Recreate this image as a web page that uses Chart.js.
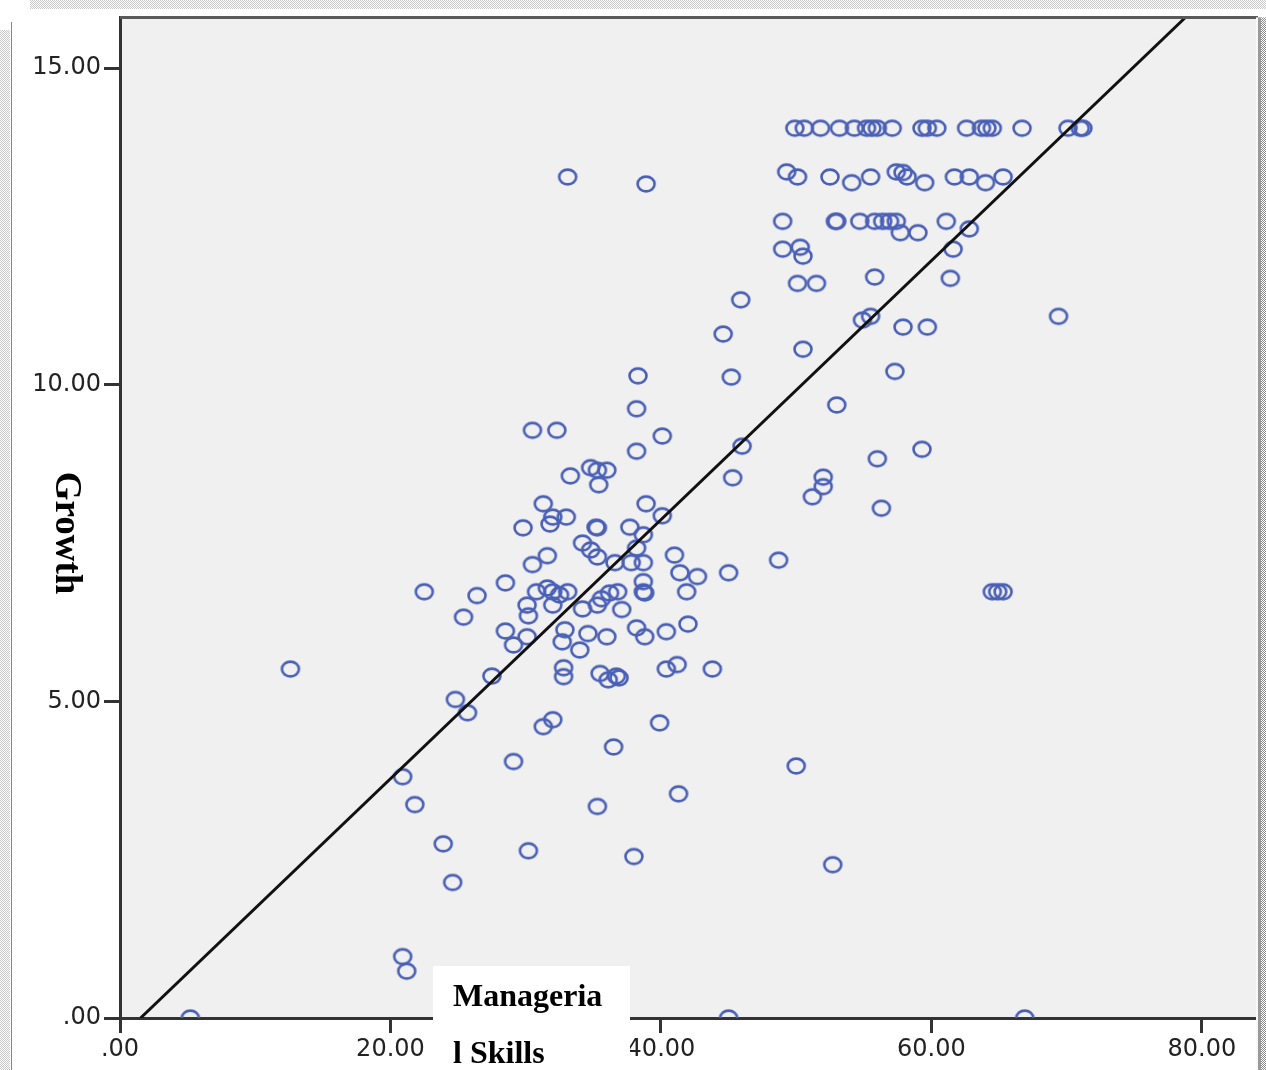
<!DOCTYPE html>
<html>
<head>
<meta charset="utf-8">
<script src="https://cdn.jsdelivr.net/npm/chart.js@4/dist/chart.umd.min.js"></script>
<style>
  body { margin: 0; background: #fff; }
  #wrap { width: 1266px; height: 1070px; }
</style>
</head>
<body>
<div id="wrap"><canvas id="scatterChart" width="1266" height="1070"></canvas></div>
<script>
// Managerial Skills (x) vs Growth (y)
const managerialSkills = [
    49.9, 50.6, 51.8, 53.2, 54.3, 55.2, 55.6, 56.0, 57.1, 59.3, 59.7, 60.4, 62.6, 63.7, 64.1, 64.5, 66.7, 70.1, 71.0, 71.2,
    49.3, 50.1, 52.5, 54.1, 55.5, 57.4, 57.9, 58.2, 59.5, 61.7, 62.8, 64.0, 65.3, 33.1, 38.9,
    49.0, 52.9, 53.0, 54.7, 55.8, 56.4, 56.9, 57.4, 57.7, 59.0, 61.1, 62.8,
    49.0, 50.3, 50.5, 61.6,
    50.1, 51.5, 55.8, 61.4, 45.9, 54.9, 55.5, 57.9, 59.7, 69.4, 50.5, 44.6, 57.3, 45.2, 38.3, 53.0, 38.2, 40.1, 38.2, 30.5, 32.3, 46.0,
    45.3, 52.0, 52.0, 51.2, 59.3, 56.0, 56.3, 48.7, 64.5, 64.9, 65.3, 50.0, 52.7, 45.0, 66.9,
    5.2, 12.6, 20.9, 21.2, 20.9, 21.8, 23.9, 24.6, 22.5, 26.4, 25.4, 28.5, 28.5, 29.1, 27.5, 24.8, 25.7, 29.1,
    32.7, 34.0, 36.0, 38.8, 32.8, 32.8, 35.5, 36.1, 36.7, 36.9, 40.4, 41.2, 43.8, 32.0, 31.3, 39.9, 36.5, 41.3, 35.3, 30.2, 38.0,
    34.8, 35.3, 36.0, 33.3, 35.4, 31.3, 38.9, 40.1, 33.0, 32.0, 31.8, 29.8, 35.2, 35.3, 37.7, 38.7, 34.2, 34.8, 35.3, 38.2,
    31.6, 30.5, 36.6, 37.8, 38.7, 41.0, 41.4, 42.7, 45.0,
    30.8, 31.6, 32.0, 32.5, 33.1, 32.0, 30.1, 30.2, 34.2, 35.3, 35.6, 36.2, 36.8, 37.1, 38.7, 38.7, 38.8, 41.9,
    30.1, 32.9, 34.6, 38.2, 40.4, 42.0
];

const growth = [
    14.05, 14.05, 14.05, 14.05, 14.05, 14.05, 14.05, 14.05, 14.05, 14.05, 14.05, 14.05, 14.05, 14.05, 14.05, 14.05, 14.05, 14.05, 14.05, 14.05,
    13.36, 13.28, 13.28, 13.19, 13.28, 13.36, 13.35, 13.28, 13.19, 13.28, 13.28, 13.19, 13.28, 13.28, 13.17,
    12.58, 12.58, 12.58, 12.58, 12.58, 12.58, 12.58, 12.58, 12.40, 12.40, 12.58, 12.46,
    12.14, 12.17, 12.03, 12.14,
    11.60, 11.60, 11.70, 11.68, 11.34, 11.02, 11.08, 10.91, 10.91, 11.08, 10.56, 10.80, 10.21, 10.12, 10.14, 9.68, 9.62, 9.19, 8.95, 9.28, 9.28, 9.03,
    8.53, 8.54, 8.39, 8.23, 8.98, 8.83, 8.05, 7.23, 6.73, 6.73, 6.73, 3.98, 2.42, 0.0, 0.0,
    0.0, 5.51, 0.97, 0.74, 3.81, 3.37, 2.75, 2.14, 6.73, 6.67, 6.33, 6.87, 6.11, 5.89, 5.40, 5.03, 4.82, 4.05,
    5.94, 5.81, 6.02, 6.02, 5.53, 5.39, 5.44, 5.34, 5.40, 5.37, 5.51, 5.58, 5.51, 4.71, 4.60, 4.66, 4.28, 3.54, 3.34, 2.64, 2.55,
    8.69, 8.65, 8.65, 8.56, 8.42, 8.12, 8.12, 7.93, 7.91, 7.91, 7.80, 7.74, 7.75, 7.74, 7.75, 7.63, 7.50, 7.39, 7.28, 7.42,
    7.30, 7.16, 7.19, 7.19, 7.19, 7.31, 7.03, 6.97, 7.03,
    6.73, 6.79, 6.73, 6.68, 6.73, 6.52, 6.52, 6.35, 6.46, 6.52, 6.62, 6.71, 6.73, 6.45, 6.89, 6.73, 6.71, 6.73,
    6.02, 6.13, 6.07, 6.16, 6.10, 6.22
];

// fit line end points
const fitLineX = [1.52, 78.74];
const fitLineY = [0, 15.79];

const xTicks = [0, 20, 40, 60, 80];
const yTicks = [0, 5, 10, 15];

function fmtTick(v) {
    return v === 0 ? '.00' : v.toFixed(2);
}

// open ring marker like the SPSS one
function makeMarker() {
    const c = document.createElement('canvas');
    c.width = 24;
    c.height = 22;
    const g = c.getContext('2d');
    g.strokeStyle = '#4a60b6';
    g.lineWidth = 2.6;
    g.beginPath();
    g.ellipse(12, 11, 8.5, 7.4, 0, 0, Math.PI * 2);
    g.stroke();
    return c;
}

function dotPattern(ctx, dark) {
    const p = document.createElement('canvas');
    p.width = 2;
    p.height = 2;
    const g = p.getContext('2d');
    g.fillStyle = '#fff';
    g.fillRect(0, 0, 2, 2);
    g.fillStyle = dark;
    g.fillRect(0, 0, 1, 1);
    g.fillRect(1, 1, 1, 1);
    return ctx.createPattern(p, 'repeat');
}

const framePlugin = {
    id: 'frame',
    beforeDraw(chart) {
        const { ctx, chartArea: a } = chart;
        ctx.save();
        ctx.fillStyle = '#fff';
        ctx.fillRect(0, 0, chart.width, chart.height);
        // scanned page edges
        ctx.fillStyle = dotPattern(ctx, '#c8c8c8');
        ctx.fillRect(30, 0, chart.width - 30, 9);
        ctx.fillRect(0, 30, 10, chart.height - 30);
        ctx.fillStyle = '#888';
        ctx.fillRect(11, 22, 1, chart.height - 22);
        // plot background
        ctx.fillStyle = '#f0f0f0';
        ctx.fillRect(a.left, a.top, a.right - a.left, a.bottom - a.top);
        ctx.restore();
    },
    afterDatasetsDraw(chart) {
        const { ctx, chartArea: a } = chart;
        ctx.save();
        ctx.strokeStyle = '#5a5a5a';
        ctx.lineWidth = 3;
        ctx.beginPath();
        ctx.moveTo(a.left, a.top);
        ctx.lineTo(a.right + 2, a.top);
        ctx.stroke();
        ctx.restore();
    },
    afterDraw(chart) {
        const { ctx, chartArea: a } = chart;
        ctx.save();
        // right edge of the scan
        ctx.fillStyle = '#fafafa';
        ctx.fillRect(a.right, a.top, 2, chart.height - a.top);
        ctx.fillStyle = dotPattern(ctx, '#8a8a8a');
        ctx.fillRect(a.right + 2, a.top, chart.width - a.right - 2, chart.height - a.top);
        ctx.fillStyle = '#9a9a9a';
        ctx.fillRect(a.right + 2, a.top, 3, chart.height - a.top);

        // y title, reads top to bottom
        ctx.fillStyle = '#000';
        ctx.font = 'bold 37px "Liberation Serif", serif';
        ctx.textAlign = 'center';
        ctx.textBaseline = 'middle';
        ctx.translate(66, 533);
        ctx.rotate(Math.PI / 2);
        ctx.fillText('Growth', 0, 0);
        ctx.restore();

        // x title sits in a white box over the axis
        ctx.save();
        ctx.fillStyle = '#fff';
        ctx.fillRect(433, 966, 197, chart.height - 966);
        ctx.fillStyle = '#000';
        ctx.font = 'bold 32px "Liberation Serif", serif';
        ctx.textAlign = 'left';
        ctx.textBaseline = 'alphabetic';
        ctx.fillText('Manageria', 453, 1006);
        ctx.fillText('l Skills', 453, 1063);
        ctx.restore();
    }
};

const scatterPoints = managerialSkills.map((x, i) => ({ x, y: growth[i] }));
const fitPoints = fitLineX.map((x, i) => ({ x, y: fitLineY[i] }));

const ctx = document.getElementById('scatterChart').getContext('2d');
const scatterChart = new Chart(ctx, {
    type: 'scatter',
    data: {
        datasets: [
            {
                label: 'Fit line',
                data: fitPoints,
                showLine: true,
                borderColor: '#111',
                borderWidth: 3,
                pointRadius: 0,
                order: 0
            },
            {
                label: 'Growth',
                data: scatterPoints,
                pointStyle: makeMarker(),
                pointRadius: 9,
                clip: 0,
                order: 1
            }
        ]
    },
    options: {
        responsive: false,
        animation: false,
        layout: { padding: { top: 16, right: 9, left: 0, bottom: 0 } },
        plugins: {
            legend: { display: false },
            tooltip: { enabled: false }
        },
        scales: {
            x: {
                type: 'linear',
                min: 0,
                max: 84,
                afterBuildTicks: s => { s.ticks = xTicks.map(v => ({ value: v })); },
                afterFit: s => { s.height = 52; },
                border: { display: true, color: '#333', width: 3 },
                grid: { drawOnChartArea: false, drawTicks: true, tickLength: 15, color: '#333', lineWidth: 3 },
                ticks: {
                    padding: 2,
                    color: '#222',
                    font: { family: '"DejaVu Sans"', size: 24 },
                    maxRotation: 0,
                    callback: v => fmtTick(v)
                }
            },
            y: {
                type: 'linear',
                min: 0,
                max: 15.8,
                afterBuildTicks: s => { s.ticks = yTicks.map(v => ({ value: v })); },
                afterFit: s => { s.width = 120; },
                border: { display: true, color: '#333', width: 3 },
                grid: { drawOnChartArea: false, drawTicks: true, tickLength: 16, color: '#333', lineWidth: 3 },
                ticks: {
                    padding: 3,
                    color: '#222',
                    font: { family: '"DejaVu Sans"', size: 24 },
                    callback: v => fmtTick(v)
                }
            }
        }
    },
    plugins: [framePlugin]
});
</script>
</body>
</html>
